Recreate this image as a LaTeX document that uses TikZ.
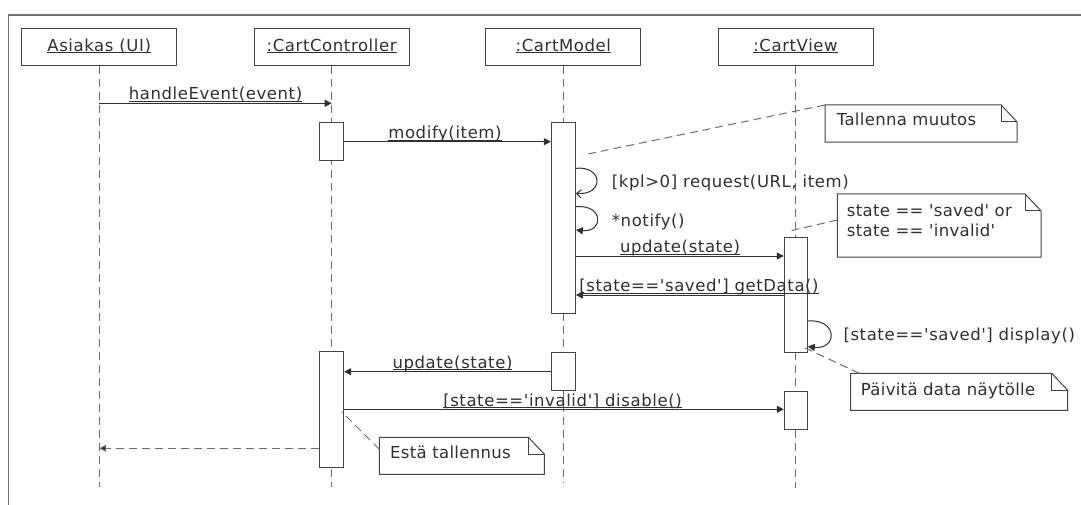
\documentclass[tikz,border=0pt]{standalone}
\usepackage{fontspec}
\newfontfamily\msgfont[LetterSpace=3.6]{DejaVu Sans}
\newfontfamily\notefont[LetterSpace=1.9]{DejaVu Sans}
\usetikzlibrary{arrows.meta}
\definecolor{ink}{HTML}{303030}
\definecolor{edge}{HTML}{444444}
\definecolor{dashc}{HTML}{6C6C6C}
\definecolor{framec}{HTML}{747474}
% underline drawn just below the baseline, as UML names and messages are shown
\newcommand\uline[1]{\setbox0=\hbox{#1}\rlap{\color{ink}\rule[-1.7pt]{\wd0}{0.75pt}}\box0}
% note outline with a folded top-right corner
\newcommand\notefold[1]{%
  \draw[noteline] (#1.north west) -- ([xshift=-16pt]#1.north east)
    -- ([yshift=-17pt]#1.north east) -- (#1.south east) -- (#1.south west) -- cycle;
  \draw[noteline] ([xshift=-16pt]#1.north east) -- ([xshift=-16pt,yshift=-17pt]#1.north east)
    -- ([yshift=-17pt]#1.north east);}
\begin{document}
\begin{tikzpicture}[x=1pt,y=-1pt,
  font=\msgfont\fontsize{16.5}{19}\selectfont,
  head/.style={draw=edge, line width=1pt, fill=white, minimum width=155pt,
    minimum height=36.7pt, inner sep=0pt, text=ink, text height=12pt, text depth=2.5pt},
  act/.style={draw=edge, line width=1pt, fill=white, minimum width=24pt, inner sep=0pt},
  lifeline/.style={draw=dashc, line width=1pt, dash pattern=on 8pt off 5pt},
  msg/.style={draw=ink, line width=1pt, -{Triangle[length=7pt,width=7pt]}},
  openmsg/.style={draw=ink, line width=1pt, -{Straight Barb[length=4.5pt,width=8pt]}},
  ret/.style={draw=dashc, line width=1pt, dash pattern=on 8pt off 5pt,
    -{Triangle[length=7pt,width=7pt,fill=ink]}},
  mlabel/.style={anchor=base, inner sep=0pt, text=ink},
  slabel/.style={anchor=base west, inner sep=0pt, text=ink},
  notebox/.style={anchor=north west, inner sep=0pt, draw=none},
  notetext/.style={anchor=base west, inner sep=0pt, text=ink,
    font=\notefont\fontsize{16.5}{19}\selectfont},
  notelink/.style={draw=dashc, line width=1pt, dash pattern=on 8pt off 5pt},
  noteline/.style={draw=edge, line width=1pt}]

\useasboundingbox (0,0) rectangle (1081,505);
\fill[white] (0,0) rectangle (1081,505);

% diagram frame
\draw[framec, line width=1.3pt] (1081,15) -- (8.3,15) -- (8.3,505);

% participants
\node[head] (ui) at (99.2,46.7) {\uline{Asiakas (UI)}};
\node[head] (cc) at (331.65,46.7) {\uline{:CartController}};
\node[head] (cm) at (563.35,46.7) {\uline{:CartModel}};
\node[head] (cv) at (795.5,46.7) {\uline{:CartView}};

% lifelines
\draw[lifeline] (ui.south) -- (ui |- 0,487.3);
\draw[lifeline] (cc.south) -- (cc |- 0,487.3);
\draw[lifeline] (cm.south) -- (cm |- 0,483.3);
\draw[lifeline] (cv.south) -- (cv |- 0,488.3);

% activation bars
\node[act, minimum height=38.3pt] (c1) at (cc |- 0,141.85) {};
\node[act, minimum height=190.6pt] (m1) at (cm |- 0,218) {};
\node[act, minimum width=23pt, minimum height=115pt] (v1) at (795.8,294.8) {};
\node[act, minimum height=38.4pt] (m2) at (cm |- 0,371.5) {};
\node[act, minimum height=115.6pt] (c2) at (cc |- 0,409.5) {};
\node[act, minimum width=23pt, minimum height=38.3pt] (v2) at (795.8,410.15) {};

% messages
\draw[msg] (ui |- 0,103.3) -- (cc |- 0,103.3);
\node[mlabel] (lh) at (215.5,100) {\uline{handleEvent(event)}};

\draw[msg] (c1.east |- 0,141.7) -- (m1.west |- 0,141.7);
\node[mlabel] (lm) at (445,139) {\uline{modify(item)}};

\draw[openmsg] (m1.east |- 0,168.3) .. controls +(28,-2.5) and +(28,2.5) .. (m1.east |- 0,193.3);
\node[slabel] (lr) at (611.7,188) {[kpl>0] request(URL, item)};

\draw[msg] (m1.east |- 0,206.7) .. controls +(28,-2.5) and +(28,2.5) .. (m1.east |- 0,230);
\node[slabel] (ln) at (611.7,226.7) {*notify()};

\draw[msg] (m1.east |- 0,256) -- (v1.west |- 0,256);
\node[mlabel] (lu) at (680,252.6) {\uline{update(state)}};

\draw[msg] (v1.west |- 0,295) -- (m1.east |- 0,295);
\node[mlabel] (lg) at (699,291.7) {\uline{[state=='saved'] getData()}};

\draw[msg] (v1.east |- 0,321) .. controls +(30,-2.5) and +(30,3) .. (v1.east |- 0,346.7);
\node[slabel] (ld) at (843.3,340) {[state=='saved'] display()};

\draw[msg] (m2.west |- 0,371.7) -- (c2.east |- 0,371.7);
\node[mlabel] (lu2) at (452.5,368) {\uline{update(state)}};

\draw[msg] (c2.east |- 0,409.3) -- (v2.west |- 0,409.3);
\node[mlabel] (ls) at (562.5,406.5) {\uline{[state=='invalid'] disable()}};

\draw[ret] (c2.west |- 0,448.3) -- (ui |- 0,448.3);

% notes
\node[notebox, minimum width=191.7pt, minimum height=36.7pt] (n1) at (825,105) {};
\notefold{n1}
\node[notetext] (t1) at (836.7,126) {Tallenna muutos};
\coordinate (a1) at (583,155);
\draw[notelink] (n1.north west) -- (a1);

\node[notebox, minimum width=203.4pt, minimum height=62.7pt] (n2) at (837.3,194) {};
\notefold{n2}
\node[notetext] (t2) at (846.7,216)
  {\vtop{\baselineskip=20.7pt\hbox{state == 'saved' or}\hbox{state == 'invalid'}}};
\coordinate (a2) at (786.7,231.7);
\draw[notelink] (n2.west |- 0,220) -- (a2);

\node[notebox, minimum width=216.6pt, minimum height=36.7pt] (n3) at (850.7,373.3) {};
\notefold{n3}
\node[notetext] (t3) at (860.7,395) {Päivitä data näytölle};
\coordinate (a3) at (803,347);
\draw[notelink] ([xshift=8.6pt]n3.north west) -- (a3);

\node[notebox, minimum width=164.7pt, minimum height=36.7pt] (n4) at (379.3,437.3) {};
\notefold{n4}
\node[notetext] (t4) at (390,458.3) {Estä tallennus};
\coordinate (a4) at (341.7,411.7);
\draw[notelink] (n4.west |- 0,449.3) -- (a4);
\end{tikzpicture}
\end{document}
